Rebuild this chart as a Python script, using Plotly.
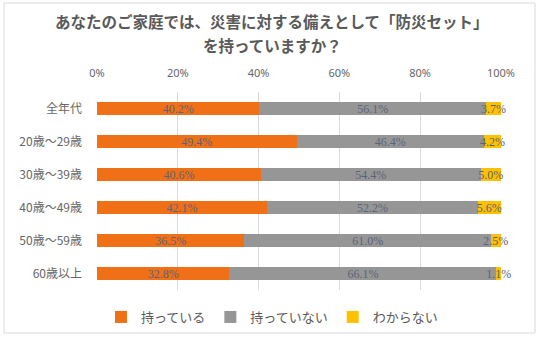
import plotly.graph_objects as go

categories = ["全年代", "20歳～29歳", "30歳～39歳", "40歳～49歳", "50歳～59歳", "60歳以上"]
have = [40.2, 49.4, 40.6, 42.1, 36.5, 32.8]
have_not = [56.1, 46.4, 54.4, 52.2, 61.0, 66.1]
unknown = [3.7, 4.2, 5.0, 5.6, 2.5, 1.1]
series_names = ["持っている", "持っていない", "わからない"]
tick_vals = [0, 20, 40, 60, 80, 100]
tick_text = ["0%", "20%", "40%", "60%", "80%", "100%"]
title_lines = ["あなたのご家庭では、災害に対する備えとして「防災セット」", "を持っていますか？"]

colors = ["#F07018", "#969696", "#FFC000"]
label_font = dict(family="Liberation Serif", size=12, color="#5a6478")
sans = "Noto Sans CJK JP"

# plot area in pixels (for placing paper-referenced decorations)
PL, PR, PT, PB = 97, 501, 92, 290
W, H = 544, 343


def px_x(px):
    return (px - PL) / (PR - PL)


def px_y(py):
    return (PB - py) / (PB - PT)


fig = go.Figure()
for name, vals, col in zip(series_names, [have, have_not, unknown], colors):
    fig.add_trace(go.Bar(
        y=categories, x=vals, name=name, orientation="h",
        marker=dict(color=col, line=dict(width=0)),
        text=[f"{v:.1f}%" for v in vals],
        textposition="inside", insidetextanchor="middle", textangle=0,
        textfont=label_font, cliponaxis=False,
    ))

fig.update_layout(
    barmode="stack",
    bargap=0.62,
    width=W, height=H,
    margin=dict(l=PL, r=W - PR, t=PT, b=H - PB),
    paper_bgcolor="white", plot_bgcolor="white",
    uniformtext=dict(minsize=12, mode="show"),
    font=dict(family=sans, color="#595959"),
    xaxis=dict(
        side="top", range=[0, 100.02], tickvals=tick_vals, ticktext=tick_text,
        showgrid=True, gridcolor="#d9d9d9", gridwidth=1, zeroline=False,
        showline=False, ticks="", ticklabelstandoff=12,
        tickfont=dict(family="Noto Sans", size=11, color="#666666"),
    ),
    yaxis=dict(
        autorange="reversed", showgrid=False, ticks="", showline=False,
        ticklabelstandoff=14,
        tickfont=dict(family=sans, size=12, color="#666666"),
    ),
    legend=dict(
        orientation="h", xref="container", yref="container",
        x=0.5, xanchor="center", y=1 - 317 / H, yanchor="middle",
        font=dict(family=sans, size=13, color="#595959"),
        traceorder="normal", itemwidth=30,
    ),
    showlegend=True,
)

for line, ypx in zip(title_lines, [21, 45]):
    fig.add_annotation(text=line, xref="paper", yref="paper",
                       x=px_x(272), y=px_y(ypx), xanchor="center", yanchor="middle",
                       showarrow=False,
                       font=dict(family=sans, size=15.5, color="#595959", weight="bold"))

fig.add_shape(type="rect", xref="paper", yref="paper",
              x0=px_x(4), x1=px_x(535), y0=px_y(333), y1=px_y(3),
              line=dict(color="#d9d9d9", width=1), fillcolor="rgba(0,0,0,0)",
              layer="below")

fig.write_html("out.html")
